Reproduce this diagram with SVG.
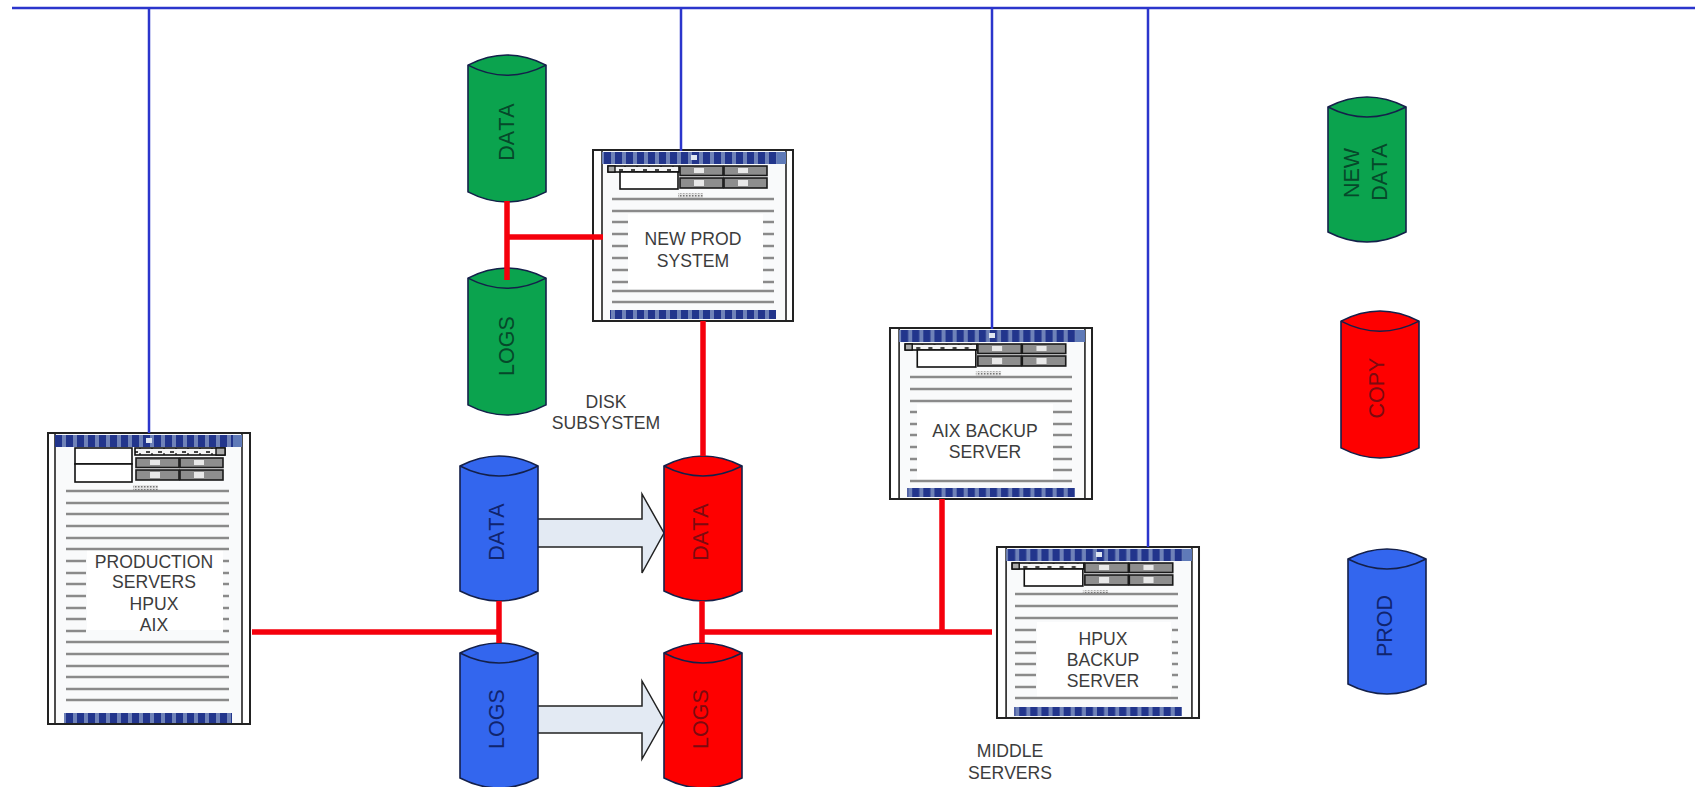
<svg xmlns="http://www.w3.org/2000/svg" width="1695" height="787" viewBox="0 0 1695 787">
<style>
text{font-family:"Liberation Sans",Arial,sans-serif;fill:#3c3c3c;text-anchor:middle;font-kerning:none}
.l{font-size:17.6px}
.c{font-size:21.5px}
.tg{fill:#06482a}.tr{fill:#7c0a10}.tb{fill:#10246e}
.bl{stroke:#2b35cc;stroke-width:2.5;fill:none}
.rd{stroke:#f5000c;stroke-width:5.5;fill:none}
.frame{fill:#fff;stroke:#222;stroke-width:2}
.inner{fill:#f9fafb}
.edge{stroke:#222;stroke-width:1.6;fill:none}
.ln{stroke:#8a8a8a;stroke-width:2.4;fill:none}
.wh{fill:#fff;stroke:#111;stroke-width:1.6}
.cell{fill:#8e8e8e;stroke:#1a1a1a;stroke-width:1.6}
.mark{fill:#e8e8e8}
.txa{fill:#fff}
.green{fill:#0ba34e}.red{fill:#fe0000}.blue{fill:#3366ee}
.arrow{fill:#e3eaf3;stroke:#222;stroke-width:1.5}
</style>
<defs>
<pattern id="st" width="11" height="20" patternUnits="userSpaceOnUse"><rect width="11" height="20" fill="#22358c"/><rect x="7" width="4" height="20" fill="#6f82b8"/></pattern>
<pattern id="dt" width="3" height="3" patternUnits="userSpaceOnUse"><rect width="3" height="3" fill="#e4e4e4"/><rect width="1.5" height="1.5" fill="#777"/></pattern>
<pattern id="ck" width="12" height="6" patternUnits="userSpaceOnUse"><rect width="12" height="6" fill="#f4f4f4"/><rect x="2" y="1" width="4" height="2" fill="#444"/><rect x="7" y="3" width="2" height="2" fill="#666"/></pattern>
<filter id="soft" x="-5%" y="-20%" width="110%" height="140%"><feGaussianBlur stdDeviation="0.6"/></filter>
<g id="cyl"><path d="M0,10 Q39,-10 78,10 V135 Q39,155 0,135 Z" stroke="#14204a" stroke-width="1.6"/><path d="M0,10 Q39,30 78,10" fill="none" stroke="#14204a" stroke-width="1.6"/></g>
<g id="cells">
<rect x="0" y="0" width="43" height="9.500" class="cell"/><rect x="44" y="0" width="43" height="9.500" class="cell"/>
<rect x="0" y="12" width="43" height="10" class="cell"/><rect x="44" y="12" width="43" height="10" class="cell"/>
<g filter="url(#soft)"><rect x="14" y="2" width="10" height="5" class="mark"/><rect x="58" y="2" width="10" height="5" class="mark"/><rect x="14" y="14" width="10" height="6" class="mark"/><rect x="58" y="14" width="10" height="6" class="mark"/></g>
</g>
<g id="srv">
<rect class="frame" width="200" height="171"/>
<rect class="inner" x="9" y="1" width="184" height="169"/>
<path class="edge" d="M9,0V171M193,0V171"/>
<rect x="9" y="2" width="184" height="12" fill="url(#st)"/>
<rect x="184" y="2" width="9" height="12" fill="#5f7ab8"/>
<rect x="98" y="5" width="6" height="5" fill="#dfe6f2"/>
<rect x="17" y="160" width="166" height="9" fill="url(#st)"/>
<rect x="15" y="16" width="71" height="6" class="wh" style="fill:url(#ck)"/>
<rect x="15" y="16" width="7" height="6" fill="#aaa" stroke="#111" stroke-width="1.400"/>
<rect x="27" y="22" width="58" height="17" class="wh"/>
<use href="#cells" transform="translate(87,16)"/>
<rect x="85" y="43" width="25" height="5" fill="url(#dt)"/>
</g>
</defs>
<rect width="1695" height="787" fill="#fff"/>
<g id="node-prod-server">
<rect class="frame" x="48" y="433" width="202" height="291"/>
<rect class="inner" x="55" y="434" width="187" height="289"/>
<path class="edge" d="M55,433V724M242,433V724"/>
<rect x="55" y="435" width="187" height="12" fill="url(#st)"/>
<rect x="233" y="435" width="9" height="12" fill="#5f7ab8"/>
<rect x="146" y="438" width="6" height="5" fill="#dfe6f2"/>
<rect x="64" y="713" width="168" height="10" fill="url(#st)"/>
<rect x="75" y="448" width="57" height="16" class="wh"/><rect x="75" y="464" width="57" height="18" class="wh"/>
<rect x="135" y="448" width="90" height="7" class="wh" style="fill:url(#ck)"/>
<rect x="216" y="448" width="9" height="7" fill="#aaa" stroke="#111" stroke-width="1.400"/>
<use href="#cells" transform="translate(136,458)"/>
<rect x="133" y="485" width="25" height="6" fill="url(#dt)"/>
<rect class="txa" x="87" y="550" width="136" height="80"/>
<path class="ln" filter="url(#soft)" d="M66,491H229M66,503H229M66,514H229M66,526H229M66,538H229M66,549H229M66,561H86M223,561H229M66,573H86M223,573H229M66,584H86M223,584H229M66,596H86M223,596H229M66,608H86M223,608H229M66,619H86M223,619H229M66,631H86M223,631H229M66,642H229M66,654H229M66,666H229M66,677H229M66,689H229M66,700H229"/>
<text class="l" x="154" y="568">PRODUCTION</text><text class="l" x="154" y="588">SERVERS</text><text class="l" x="154" y="610">HPUX</text><text class="l" x="154" y="631">AIX</text>
</g>
<g id="node-new-prod">
<use href="#srv" transform="translate(593,150)"/>
<rect class="txa" x="628" y="214" width="135" height="75"/>
<path class="ln" filter="url(#soft)" d="M612,199H774M612,211H774M612,222H628M763,222H774M612,234H628M763,234H774M612,246H628M763,246H774M612,258H628M763,258H774M612,270H628M763,270H774M612,282H628M763,282H774M612,291H774M612,302H774"/>
<text class="l" x="693" y="245">NEW PROD</text><text class="l" x="693" y="267">SYSTEM</text>
</g>
<g id="node-aix-backup">
<use href="#srv" transform="translate(890,328) scale(1.01,1)"/>
<rect class="txa" x="917" y="404" width="136" height="77"/>
<path class="ln" filter="url(#soft)" d="M910,377H1072M910,389H1072M910,401H1072M910,412H917M1053,412H1072M910,424H917M1053,424H1072M910,435H917M1053,435H1072M910,447H917M1053,447H1072M910,459H917M1053,459H1072M910,470H917M1053,470H1072M910,481H1072"/>
<text class="l" x="985" y="437">AIX BACKUP</text><text class="l" x="985" y="458">SERVER</text>
</g>
<g id="node-hpux-backup">
<use href="#srv" transform="translate(997,547) scale(1.01,1)"/>
<rect class="txa" x="1037" y="622" width="134" height="75"/>
<path class="ln" filter="url(#soft)" d="M1015,594H1178M1015,606H1178M1015,618H1178M1015,630H1036M1172,630H1178M1015,642H1036M1172,642H1178M1015,653H1036M1172,653H1178M1015,664H1036M1172,664H1178M1015,675H1036M1172,675H1178M1015,687H1036M1172,687H1178M1015,698H1178"/>
<text class="l" x="1103" y="645">HPUX</text><text class="l" x="1103" y="666">BACKUP</text><text class="l" x="1103" y="687">SERVER</text>
</g>
<g id="arrows">
<path class="arrow" d="M537,519H642V494L664,533L642,573V547H537Z"/>
<path class="arrow" d="M537,706H642V681L664,720L642,759V733H537Z"/>
</g>
<g id="node-green-data"><use href="#cyl" class="green" transform="translate(468,55) scale(1,1.014)"/><text class="c tg" transform="translate(514,132) rotate(-90)">DATA</text></g>
<g id="node-green-logs"><use href="#cyl" class="green" transform="translate(468,268) scale(1,1.014)"/><text class="c tg" transform="translate(514,346) rotate(-90)">LOGS</text></g>
<g id="node-blue-data"><use href="#cyl" class="blue" transform="translate(460,456)"/><text class="c tb" transform="translate(504,532) rotate(-90)">DATA</text></g>
<g id="node-blue-logs"><use href="#cyl" class="blue" transform="translate(460,643)"/><text class="c tb" transform="translate(504,719) rotate(-90)">LOGS</text></g>
<g id="node-red-data"><use href="#cyl" class="red" transform="translate(664,456)"/><text class="c tr" transform="translate(708,532) rotate(-90)">DATA</text></g>
<g id="node-red-logs"><use href="#cyl" class="red" transform="translate(664,643)"/><text class="c tr" transform="translate(708,719) rotate(-90)">LOGS</text></g>
<g id="node-legend-new"><use href="#cyl" class="green" transform="translate(1328,97)"/><text class="c tg" transform="translate(1359,173) rotate(-90)">NEW</text><text class="c tg" transform="translate(1387,172) rotate(-90)">DATA</text></g>
<g id="node-legend-copy"><use href="#cyl" class="red" transform="translate(1341,311) scale(1,1.014)"/><text class="c tr" transform="translate(1384,388) rotate(-90)">COPY</text></g>
<g id="node-legend-prod"><use href="#cyl" class="blue" transform="translate(1348,549)"/><text class="c tb" transform="translate(1392,626) rotate(-90)">PROD</text></g>
<g id="label-disk"><text class="l" x="606" y="408">DISK</text><text class="l" x="606" y="429">SUBSYSTEM</text></g>
<g id="label-middle"><text class="l" x="1010" y="757">MIDDLE</text><text class="l" x="1010" y="779">SERVERS</text></g>
<g id="connectors">
<path class="bl" d="M12,8H1695"/>
<path class="bl" d="M149,8V433M681,8V151M992,8V329M1148,8V547"/>
<path class="rd" d="M252,632H499M499,601V643M702,601V643M702,632H992M942,499V632M703,321V456M507,201V280M507,237H603"/>
</g>
</svg>
